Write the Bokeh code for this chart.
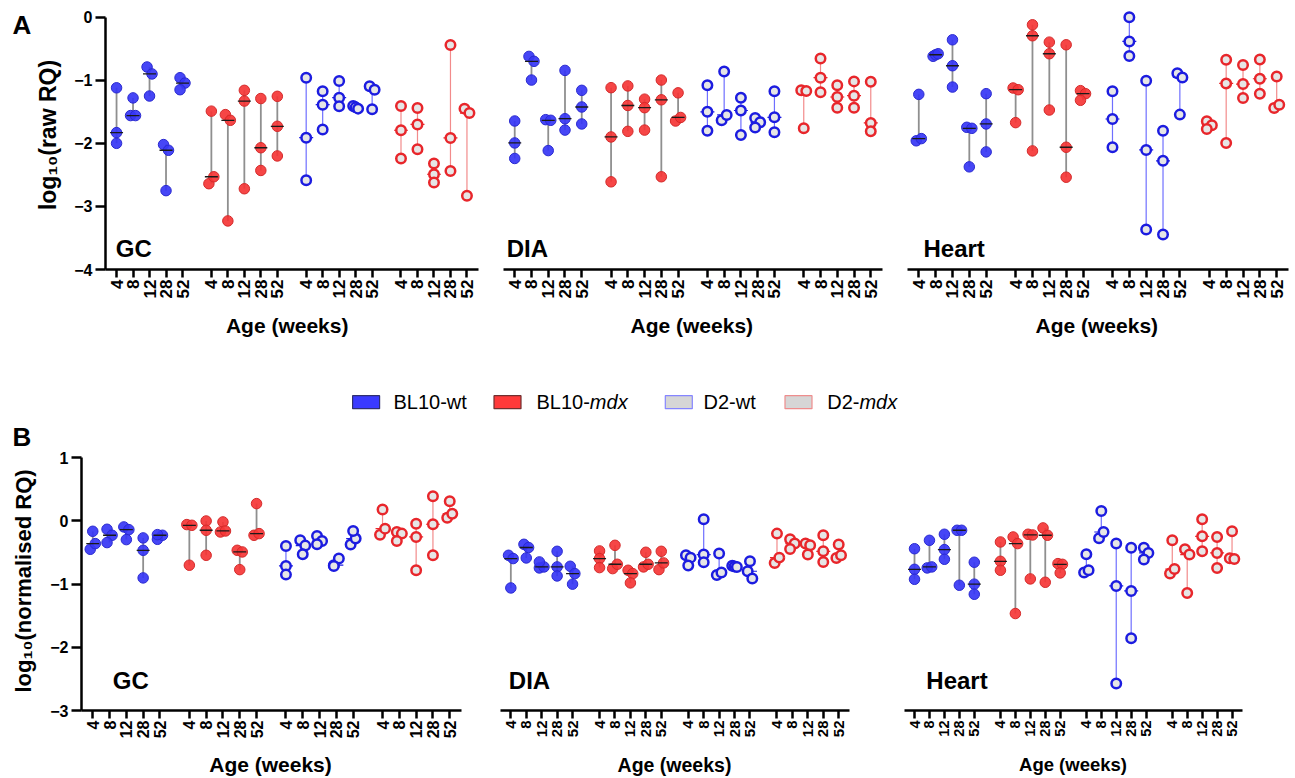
import numpy as np
from bokeh.plotting import figure
from bokeh.models import Range1d, FixedTicker, CustomJSTickFormatter
from bokeh.layouts import column, row
from bokeh.embed import file_html
from bokeh.resources import INLINE
from bokeh.core.properties import value

# ------------------------------------------------------------------ data
AGES = ["4", "8", "12", "28", "52"]
GROUPS = ["BL10-wt", "BL10-mdx", "D2-wt", "D2-mdx"]
TISSUES = ["GC", "DIA", "Heart"]

# Panel A : log10(raw RQ)   (3 animals per age, ages 4/8/12/28/52 weeks)
A_GC_BL10_WT = [[-1.12, -1.83, -2.00], [-1.28, -1.56, -1.56], [-0.79, -0.90, -1.25], [-2.02, -2.11, -2.75], [-0.96, -1.045, -1.15]]
A_GC_BL10_MDX = [[-1.49, -2.64, -2.53], [-1.545, -1.635, -3.23], [-1.16, -1.33, -2.72], [-1.29, -2.07, -2.43], [-1.255, -1.73, -2.20]]
A_GC_D2_WT = [[-0.96, -1.91, -2.585], [-1.176, -1.387, -1.78], [-1.013, -1.276, -1.413], [-1.41, -1.43, -1.45], [-1.097, -1.15, -1.46]]
A_GC_D2_MDX = [[-1.408, -1.793, -2.24], [-1.44, -1.70, -2.094], [-2.32, -2.49, -2.62], [-0.44, -1.915, -2.437], [-1.45, -1.52, -2.83]]

A_DIA_BL10_WT = [[-1.646, -1.994, -2.24], [-0.622, -0.70, -0.997], [-1.625, -1.635, -2.115], [-0.844, -1.61, -1.79], [-1.16, -1.424, -1.693]]
A_DIA_BL10_MDX = [[-1.118, -1.899, -2.61], [-1.09, -1.40, -1.81], [-1.30, -1.435, -1.79], [-0.997, -1.31, -2.53], [-1.20, -1.646, -1.59]]
A_DIA_D2_WT = [[-1.08, -1.50, -1.80], [-0.86, -1.635, -1.55], [-1.276, -1.48, -1.867], [-1.598, -1.667, -1.75], [-1.176, -1.588, -1.825]]
A_DIA_D2_MDX = [[-1.16, -1.17, -1.76], [-0.654, -0.96, -1.19], [-1.08, -1.266, -1.435], [-1.018, -1.245, -1.435], [-1.023, -1.677, -1.81]]

A_HEART_BL10_WT = [[-1.224, -1.96, -1.925], [-0.62, -0.596, -0.58], [-0.359, -0.77, -1.108], [-1.746, -1.762, -2.373], [-1.213, -1.693, -2.136]]
A_HEART_BL10_MDX = [[-1.123, -1.15, -1.672], [-0.121, -0.295, -2.12], [-0.396, -0.58, -1.472], [-0.438, -2.062, -2.537], [-1.165, -1.213, -1.318]]
A_HEART_D2_WT = [[-1.176, -1.614, -2.062], [0.0, -0.385, -0.617], [-1.007, -2.104, -3.365], [-1.799, -2.278, -3.444], [-0.891, -0.955, -1.545]]
A_HEART_D2_MDX = [[-1.651, -1.714, -1.772], [-0.675, -1.05, -1.994], [-0.76, -1.06, -1.28], [-0.67, -0.976, -1.213], [-0.94, -1.44, -1.387]]

# Panel B : log10(normalised RQ)
B_GC_BL10_WT = [[-0.163, -0.448, -0.358], [-0.131, -0.226, -0.342], [-0.094, -0.137, -0.295], [-0.268, -0.464, -0.901], [-0.29, -0.226, -0.216]]
B_GC_BL10_MDX = [[-0.057, -0.068, -0.70], [0.0, -0.147, -0.543], [-0.015, -0.174, -0.158], [-0.464, -0.49, -0.77], [0.275, -0.226, -0.20]]
B_GC_D2_WT = [[-0.395, -0.712, -0.849], [-0.306, -0.39, -0.527], [-0.237, -0.316, -0.369], [-0.70, -0.595, -0.712], [-0.374, -0.279, -0.158]]
B_GC_D2_MDX = [[0.18, -0.216, -0.121], [-0.174, -0.20, -0.316], [-0.042, -0.253, -0.78], [0.39, -0.052, -0.543], [0.311, 0.053, 0.116]]

B_DIA_BL10_WT = [[-0.543, -0.595, -1.06], [-0.369, -0.42, -0.585], [-0.743, -0.727, -0.648], [-0.48, -0.727, -0.87], [-0.717, -0.833, -1.0]]
B_DIA_BL10_MDX = [[-0.474, -0.595, -0.738], [-0.385, -0.754, -0.685], [-0.78, -0.833, -0.98], [-0.495, -0.727, -0.685], [-0.48, -0.77, -0.664]]
B_DIA_D2_WT = [[-0.543, -0.58, -0.706], [0.027, -0.532, -0.653], [-0.516, -0.854, -0.817], [-0.71, -0.72, -0.73], [-0.638, -0.796, -0.912]]
B_DIA_D2_MDX = [[-0.20, -0.664, -0.58], [-0.29, -0.358, -0.443], [-0.358, -0.385, -0.532], [-0.226, -0.48, -0.648], [-0.374, -0.585, -0.543]]

B_HEART_BL10_WT = [[-0.439, -0.765, -0.923], [-0.306, -0.743, -0.727], [-0.21, -0.453, -0.606], [-0.147, -0.147, -1.017], [-0.653, -1.0, -1.16]]
B_HEART_BL10_MDX = [[-0.332, -0.638, -0.78], [-0.253, -0.358, -1.465], [-0.21, -0.221, -0.917], [-0.11, -0.226, -0.97], [-0.675, -0.686, -0.822]]
B_HEART_D2_WT = [[-0.527, -0.817, -0.78], [0.158, -0.274, -0.174], [-0.358, -1.028, -2.573], [-0.422, -1.107, -1.856], [-0.422, -0.506, -0.611]]
B_HEART_D2_MDX = [[-0.306, -0.833, -0.76], [-0.448, -0.532, -1.139], [0.027, -0.242, -0.48], [-0.253, -0.506, -0.743], [-0.163, -0.59, -0.60]]

PANEL_A = {
    "GC": [A_GC_BL10_WT, A_GC_BL10_MDX, A_GC_D2_WT, A_GC_D2_MDX],
    "DIA": [A_DIA_BL10_WT, A_DIA_BL10_MDX, A_DIA_D2_WT, A_DIA_D2_MDX],
    "Heart": [A_HEART_BL10_WT, A_HEART_BL10_MDX, A_HEART_D2_WT, A_HEART_D2_MDX],
}
PANEL_B = {
    "GC": [B_GC_BL10_WT, B_GC_BL10_MDX, B_GC_D2_WT, B_GC_D2_MDX],
    "DIA": [B_DIA_BL10_WT, B_DIA_BL10_MDX, B_DIA_D2_WT, B_DIA_D2_MDX],
    "Heart": [B_HEART_BL10_WT, B_HEART_BL10_MDX, B_HEART_D2_WT, B_HEART_D2_MDX],
}

A_YTICKS = [0, -1, -2, -3, -4]
B_YTICKS = [1, 0, -1, -2, -3]
X_TITLE = "Age (weeks)"
A_YTITLE = "log\u2081\u2080(raw RQ)"
B_YTITLE = "log\u2081\u2080(normalised RQ)"

# ------------------------------------------------------------------ styles
FONT = "Liberation Sans"
GROUP_GAP = 5.75
XMIN, XMAX = -0.67, 21.95
JIT = 0.15

STYLE = {
    "BL10-wt": dict(filled=True, fill="#3636f5", line="#2a2ad0", rng="#8f8f8f", rng_w=1.8, med="#1a1a1a"),
    "BL10-mdx": dict(filled=True, fill="#f53636", line="#d42a2a", rng="#8f8f8f", rng_w=1.8, med="#1a1a1a"),
    "D2-wt": dict(filled=False, fill="#e6e6e6", line="#1c1ce0", rng="#6f6fff", rng_w=1.2, med="#1c1ce0"),
    "D2-mdx": dict(filled=False, fill="#e6e6e6", line="#e8262b", rng="#f28b8b", rng_w=1.2, med="#e8262b"),
}
LEGEND_STYLE = {
    "BL10-wt": dict(fill="#3a3aff", line="#303070"),
    "BL10-mdx": dict(fill="#ff3a3a", line="#703030"),
    "D2-wt": dict(fill="#d6d6d6", line="#8585ff"),
    "D2-mdx": dict(fill="#d6d6d6", line="#ee8d8d"),
}

TICK_POS = [g * GROUP_GAP + i for g in range(len(GROUPS)) for i in range(len(AGES))]
TICK_LAB = [a for g in range(len(GROUPS)) for a in AGES]

PAGE_W, PAGE_H = 1295, 778


def offsets(vals, thr=0.12, tight=0.07):
    """GraphPad-like horizontal spreading of overlapping points."""
    n = len(vals)
    order = sorted(range(n), key=lambda k: -vals[k])
    clusters, cur = [], [order[0]]
    for a, b in zip(order, order[1:]):
        if vals[a] - vals[b] < thr:
            cur.append(b)
        else:
            clusters.append(cur)
            cur = [b]
    clusters.append(cur)
    off = [0.0] * n
    for c in clusters:
        if len(c) < 2:
            continue
        members = sorted(c)
        span = max(vals[k] for k in c) - min(vals[k] for k in c)
        if len(c) == 3 and span < tight:
            pat = [-JIT, 0.0, JIT]
        else:
            pat = [(-JIT if j % 2 == 0 else JIT) for j in range(len(c))]
        for j, k in enumerate(members):
            off[k] = pat[j]
    return off


def blank(width, height):
    """A plain drawing strip whose data units are pixels (y downward)."""
    f = figure(width=width, height=height, x_range=Range1d(0, width), y_range=Range1d(height, 0),
               min_border=0, output_backend="svg", toolbar_location=None,
               x_axis_location=None, y_axis_location=None)
    f.grid.visible = False
    f.outline_line_color = None
    f.background_fill_color = "white"
    f.border_fill_color = "white"
    return f


def make_panel(groups_data, name, cfg):
    has_y = cfg.get("ylabel") is not None
    p = figure(width=cfg["w"], height=cfg["h"],
               x_range=Range1d(XMIN, XMAX), y_range=Range1d(*cfg["yr"]),
               min_border_left=cfg["bl"], min_border_right=cfg["br"],
               min_border_top=cfg["bt"], min_border_bottom=cfg["bb"],
               output_backend="svg", toolbar_location=None,
               y_axis_location="left" if has_y else None)
    p.grid.visible = False
    p.outline_line_color = None
    p.background_fill_color = "white"
    p.border_fill_color = "white"

    seg = {k: [] for k in ("x", "y0", "y1", "c", "w")}
    pts = {gname: ([], []) for gname in GROUPS}
    meds = {gname: ([], []) for gname in GROUPS}
    for g, (gname, by_age) in enumerate(zip(GROUPS, groups_data)):
        st = STYLE[gname]
        for i, vals in enumerate(by_age):
            xc = g * GROUP_GAP + i
            seg["x"].append(xc)
            seg["y0"].append(min(vals))
            seg["y1"].append(max(vals))
            seg["c"].append(st["rng"])
            seg["w"].append(st["rng_w"])
            for v, o in zip(vals, offsets(vals)):
                pts[gname][0].append(xc + o)
                pts[gname][1].append(v)
            meds[gname][0].append(xc)
            meds[gname][1].append(float(np.median(vals)))

    p.segment(x0=seg["x"], y0=seg["y0"], x1=seg["x"], y1=seg["y1"],
              line_color=seg["c"], line_width=seg["w"])
    for gname in GROUPS:
        st = STYLE[gname]
        if not st["filled"]:
            p.scatter(meds[gname][0], meds[gname][1], marker="dash", size=14,
                      line_color=st["med"], line_width=1.2)
    for gname in GROUPS:
        st = STYLE[gname]
        if st["filled"]:
            p.scatter(pts[gname][0], pts[gname][1], marker="circle", size=10.5,
                      fill_color=st["fill"], fill_alpha=0.92, line_color=st["line"], line_width=1)
        else:
            p.scatter(pts[gname][0], pts[gname][1], marker="circle", size=9.5,
                      fill_color=st["fill"], line_color=st["line"], line_width=2.5)
    for gname in GROUPS:
        st = STYLE[gname]
        if st["filled"]:
            p.scatter(meds[gname][0], meds[gname][1], marker="dash", size=13,
                      line_color=st["med"], line_width=1.3)

    # tissue name (y = vertical centre of the capitals)
    p.text(x=[cfg["name_xy"][0]], y=[cfg["name_xy"][1]], text=[name],
           text_font=value(FONT), text_font_style="bold", text_font_size="24px",
           text_baseline="middle", text_align="left", text_color="black")

    xa = p.xaxis[0]
    xa.ticker = FixedTicker(ticks=TICK_POS)
    xa.formatter = CustomJSTickFormatter(args=dict(pos=TICK_POS, lab=TICK_LAB), code="""
        for (let i = 0; i < pos.length; i++) { if (Math.abs(pos[i] - tick) < 1e-6) return lab[i]; }
        return "";""")
    xa.major_label_orientation = np.pi / 2
    xa.major_label_text_font = FONT
    xa.major_label_text_font_style = "bold"
    xa.major_label_text_font_size = cfg["xtick_fs"]
    xa.major_label_text_color = "black"
    xa.major_label_standoff = 2
    xa.major_tick_out = 8
    xa.major_tick_in = 0
    xa.minor_tick_out = 0
    xa.minor_tick_in = 0
    xa.axis_line_width = 2.5
    xa.major_tick_line_width = 2.5
    xa.axis_line_color = "black"
    xa.major_tick_line_color = "black"

    if has_y:
        ya = p.yaxis[0]
        ya.ticker = FixedTicker(ticks=cfg["yticks"])
        ya.bounds = (min(cfg["yticks"]), max(cfg["yticks"]))
        ya.major_label_text_font = FONT
        ya.major_label_text_font_style = "bold"
        ya.major_label_text_font_size = cfg["ytick_fs"]
        ya.major_label_text_color = "black"
        ya.major_label_standoff = 3
        ya.major_tick_out = 10
        ya.major_tick_in = 0
        ya.minor_tick_out = 0
        ya.minor_tick_in = 0
        ya.axis_line_width = 2.5
        ya.major_tick_line_width = 2.5
        ya.axis_line_color = "black"
        ya.major_tick_line_color = "black"
        ya.axis_label = cfg["ylabel"]
        ya.axis_label_text_font = FONT
        ya.axis_label_text_font_style = "bold"
        ya.axis_label_text_font_size = cfg["ylab_fs"]
        ya.axis_label_text_color = "black"
        ya.axis_label_standoff = cfg["ylab_standoff"]
    return p


# ------------------------------------------------------------------ layout (pixels)
ROW_A_H, MID_H, ROW_B_H = 309, 142, 297
BOT_H = PAGE_H - ROW_A_H - MID_H - ROW_B_H
LETTER_W = 32

A_COMMON = dict(h=ROW_A_H, bt=0, bb=40, yr=(-4.0, 0.264), yticks=A_YTICKS,
                xtick_fs="17px", ytick_fs="16px", ylab_fs="23px", ylab_standoff=10)
B_COMMON = dict(h=ROW_B_H, bt=0, bb=38, yr=(-3.0, 1.1), yticks=B_YTICKS,
                xtick_fs="16px", ytick_fs="16px", ylab_fs="22px", ylab_standoff=11)

A_CFG = {
    "GC": dict(A_COMMON, w=458, bl=65, br=12, name_xy=(-0.05, -3.665), ylabel=A_YTITLE),
    "DIA": dict(A_COMMON, w=404, bl=13, br=12, name_xy=(-0.48, -3.665)),
    "Heart": dict(A_COMMON, w=401, bl=13, br=7, name_xy=(0.28, -3.665)),
}
B_CFG = {
    "GC": dict(B_COMMON, w=480, bl=81, br=19, name_xy=(1.19, -2.53), ylabel=B_YTITLE),
    "DIA": dict(B_COMMON, w=396, bl=20, br=27, name_xy=(-0.13, -2.53), xtick_fs="15px"),
    "Heart": dict(B_COMMON, w=419, bl=28, br=53, name_xy=(0.79, -2.53), xtick_fs="14.5px"),
}

row_a = [make_panel(PANEL_A[t], t, A_CFG[t]) for t in TISSUES]
row_b = [make_panel(PANEL_B[t], t, B_CFG[t]) for t in TISSUES]

# panel letter A (left strip of row A)
letter_a = blank(LETTER_W, ROW_A_H)
letter_a.text(x=[12], y=[28.5], text=["A"], text_font=value(FONT), text_font_style="bold",
              text_font_size="26px", text_baseline="middle", text_align="left", text_color="black")

# middle strip: x titles of row A, legend, panel letter B  (y measured from strip top)
mid = blank(PAGE_W, MID_H)
A_XTITLE_X = [286.7, 691.3, 1096.3]
A_XTITLE_Y = 15.5
mid.text(x=A_XTITLE_X, y=[A_XTITLE_Y] * 3, text=[X_TITLE] * 3, text_font=value(FONT),
         text_font_style="bold", text_font_size="21px", text_baseline="middle",
         text_align="center", text_color="black")

LEG_BOX_X = [365.6, 507.0, 678.3, 798.0]
LEG_TEXT_X = [393, 536, 703, 826.7]
LEG_Y = 92.7
LEG_FS = 20
mid.rect(x=LEG_BOX_X, y=[LEG_Y] * 4, width=27, height=13,
         fill_color=[LEGEND_STYLE[g]["fill"] for g in GROUPS],
         line_color=[LEGEND_STYLE[g]["line"] for g in GROUPS], line_width=1.2)
for gname, tx in zip(GROUPS, LEG_TEXT_X):
    strain, geno = gname.split("-")
    mid.text(x=[tx], y=[LEG_Y], text=[strain + "-"], text_font=value(FONT),
             text_font_size=f"{LEG_FS}px", text_baseline="middle", text_align="left", text_color="black")
    width_prefix = {"BL10": 2.668, "D2": 1.611}[strain] * LEG_FS
    mid.text(x=[tx + width_prefix], y=[LEG_Y], text=[geno], text_font=value(FONT),
             text_font_size=f"{LEG_FS}px", text_baseline="middle", text_align="left", text_color="black",
             text_font_style="italic" if geno == "mdx" else "normal")

mid.text(x=[12], y=[MID_H - 15], text=["B"], text_font=value(FONT), text_font_style="bold",
         text_font_size="26px", text_baseline="middle", text_align="left", text_color="black")

# bottom strip: x titles of row B
bot = blank(PAGE_W, BOT_H)
B_XTITLE_X = [270.0, 674.0, 1072.5]
B_XTITLE_FS = ["21px", "19.5px", "18.5px"]
for tx, fs in zip(B_XTITLE_X, B_XTITLE_FS):
    bot.text(x=[tx], y=[16.0], text=[X_TITLE], text_font=value(FONT),
             text_font_style="bold", text_font_size=fs, text_baseline="middle",
             text_align="center", text_color="black")

layout = column(row(letter_a, *row_a), mid, row(*row_b), bot)
open("out.html", "w").write(file_html(layout, INLINE))
